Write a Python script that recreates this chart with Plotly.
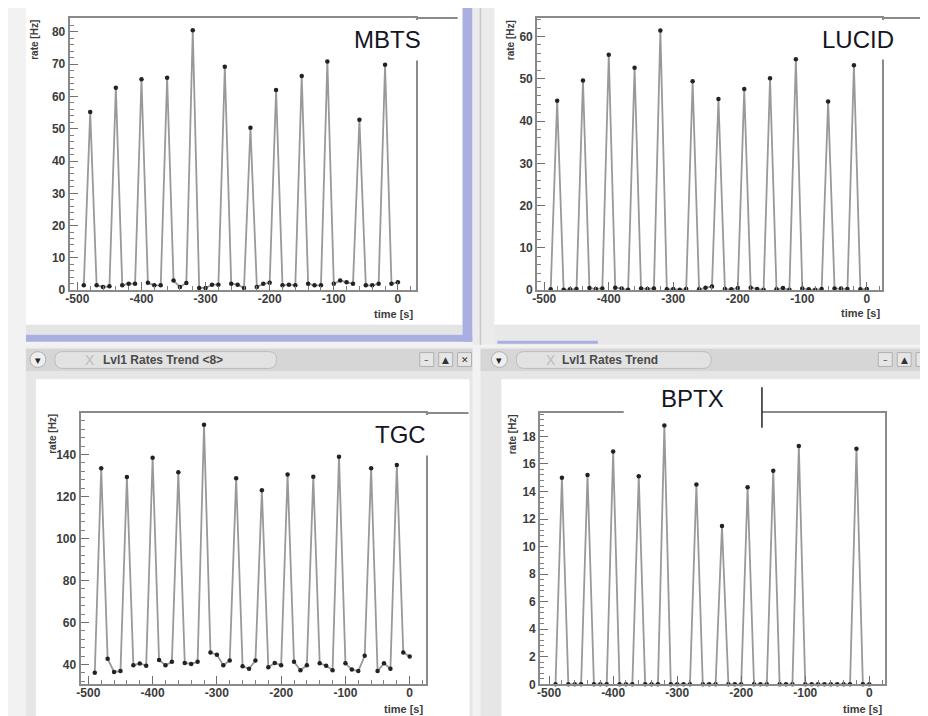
import plotly.graph_objects as go

# ---------------- data ----------------
times = [-490, -480, -470, -460, -450, -440, -430, -420, -410, -400,
         -390, -380, -370, -360, -350, -340, -330, -320, -310, -300,
         -290, -280, -270, -260, -250, -240, -230, -220, -210, -200,
         -190, -180, -170, -160, -150, -140, -130, -120, -110, -100,
         -90, -80, -70, -60, -50, -40, -30, -20, -10, 0]

mbts_rate = [1.5, 55.2, 1.5, 1.0, 1.2, 62.7, 1.5, 2.0, 2.0, 65.3,
             2.3, 1.5, 1.5, 65.8, 3.0, 1.0, 2.2, 80.5, 0.7, 0.7,
             1.7, 1.7, 69.2, 2.0, 1.7, 0.7, 50.3, 1.0, 2.0, 2.3,
             62.0, 1.5, 1.7, 1.5, 66.3, 2.0, 1.5, 1.5, 70.8, 2.0,
             3.0, 2.5, 2.0, 52.8, 1.5, 1.5, 2.0, 69.8, 2.0, 2.5]

lucid_rate = [0.2, 44.8, 0.1, 0.2, 0.3, 49.6, 0.5, 0.3, 0.4, 55.7,
              0.6, 0.4, 0.1, 52.6, 0.4, 0.3, 0.4, 61.4, 0.2, 0.3,
              0.1, 0.3, 49.4, 0.2, 0.6, 0.9, 45.2, 0.3, 0.2, 0.5,
              47.6, 0.6, 0.3, 0.1, 50.1, 0.2, 0.5, 0.1, 54.6, 0.4,
              0.2, 0.1, 0.3, 44.6, 0.4, 0.4, 0.3, 53.2, 0.2, 0.3]

tgc_rate = [36.1, 133.5, 42.8, 36.5, 36.9, 129.3, 39.7, 40.5, 39.5, 138.5,
            42.2, 39.7, 41.3, 131.6, 40.8, 40.3, 41.3, 154.2, 45.7, 44.7,
            39.7, 41.9, 128.7, 39.2, 38.0, 41.9, 123.0, 38.7, 40.8, 39.7,
            130.5, 41.3, 37.3, 39.7, 129.5, 40.6, 39.5, 37.3, 139.0, 40.6,
            37.6, 36.9, 44.2, 133.5, 36.9, 40.6, 38.0, 135.0, 45.7, 43.8]

bptx_rate = [0, 15.0, 0, 0, 0, 15.2, 0, 0, 0, 16.9,
             0, 0, 0, 15.1, 0, 0, 0, 18.8, 0, 0,
             0, 0, 14.5, 0, 0, 0, 11.5, 0, 0, 0,
             14.3, 0, 0, 0, 15.5, 0, 0, 0, 17.3, 0,
             0, 0, 0, 0, 0, 0, 0, 17.1, 0, 0]

panel_names = ["MBTS", "LUCID", "TGC", "BPTX"]
x_tick_vals = [-500, -400, -300, -200, -100, 0]
x_tick_text = ["-500", "-400", "-300", "-200", "-100", "0"]
y_title = "rate [Hz]"
x_title = "time [s]"
window_title_left = "Lvl1 Rates Trend <8>"
window_title_right = "Lvl1 Rates Trend"

# ---------------- layout helpers ----------------
W, H = 928, 716


def px(x):
    return x / W


def py(y):
    return 1 - y / H


shapes = []
annotations = []


def rect(x0, y0, x1, y1, fill, line=None, lw=0, layer="below"):
    shapes.append(dict(type="rect", xref="paper", yref="paper",
                       x0=px(x0), x1=px(x1), y0=py(y1), y1=py(y0),
                       fillcolor=fill, layer=layer,
                       line=dict(color=line or fill, width=lw)))


def hline(x0, x1, y, color, w=1.5, layer="above"):
    shapes.append(dict(type="line", xref="paper", yref="paper",
                       x0=px(x0), x1=px(x1), y0=py(y), y1=py(y),
                       layer=layer, line=dict(color=color, width=w)))


def vline(x, y0, y1, color, w=1.5, layer="above"):
    shapes.append(dict(type="line", xref="paper", yref="paper",
                       x0=px(x), x1=px(x), y0=py(y0), y1=py(y1),
                       layer=layer, line=dict(color=color, width=w)))


def text(x, y, s, size=11, color="#333", weight="normal", angle=0,
         xanchor="center", yanchor="middle", family="Liberation Sans"):
    annotations.append(dict(xref="paper", yref="paper", x=px(x), y=py(y),
                            text=s, showarrow=False, textangle=angle,
                            xanchor=xanchor, yanchor=yanchor,
                            font=dict(family=family, size=size, color=color,
                                      weight=weight)))


# ---------------- window chrome ----------------
# top-left window
rect(13, 0, 452, 320, "white")
rect(13, 320, 452, 330, "#e4e4e4")
rect(13, 330, 462, 337, "#a9afe0")
rect(452, 0, 462, 337, "#a9afe0")
# top-right window
rect(462, 0, 484, 340, "#ebebeb")
vline(470, 0, 340, "#c8c8c8", 1.5, layer="below")
rect(484, 0, 919, 320, "white")
rect(484, 320, 928, 340, "#e8e8e8")
rect(487, 336, 588, 339, "#a9afe0")
# title bars
for (bx0, bx1, tab0, tab1, title, tx) in [
        (13, 462, 42, 265, window_title_left, 151),
        (470, 928, 506, 702, window_title_right, 600)]:
    rect(bx0, 343, bx1, 367, "#d6d6d6")
    hline(bx0, bx1, 343.5, "#f0f0f0", 1, layer="below")
    shapes.append(dict(type="path", xref="paper", yref="paper", layer="below",
                       path=(f"M {px(tab0 + 8)},{py(347)} L {px(tab1 - 8)},{py(347)} "
                             f"Q {px(tab1)},{py(347)} {px(tab1)},{py(355)} "
                             f"Q {px(tab1)},{py(364)} {px(tab1 - 8)},{py(364)} "
                             f"L {px(tab0 + 8)},{py(364)} "
                             f"Q {px(tab0)},{py(364)} {px(tab0)},{py(355)} "
                             f"Q {px(tab0)},{py(347)} {px(tab0 + 8)},{py(347)} Z"),
                       fillcolor="#e2e2e2", line=dict(color="#bdbdbd", width=1)))
    text(tx, 355, title, size=12, color="#4a4a4a", weight="bold")
    text(tab0 + 35, 355, "X", size=14, color="#bcbcbd")
    # circle menu button
    cx = 25 if bx0 == 13 else 489
    shapes.append(dict(type="circle", xref="paper", yref="paper", layer="below",
                       x0=px(cx - 8), x1=px(cx + 8), y0=py(363), y1=py(347),
                       fillcolor="#eeeeee", line=dict(color="#b0b0b0", width=1)))
    text(cx, 355, "▾", size=11, color="#222")
    # right buttons
    for i, g in enumerate(["–", "▲", "✕"]):
        bxr = (416 if bx0 == 13 else 877) + i * 19
        rect(bxr - 7, 348, bxr + 7, 362, "#e6e6e6", "#b0b0b0", 1)
        text(bxr, 355, g, size=9, color="#333", family="DejaVu Sans")
# lower window bodies
rect(13, 367, 462, 716, "#e6e6e6")
rect(23, 375, 459, 716, "white")
rect(470, 367, 928, 716, "#e6e6e6")
rect(491, 375, 919, 716, "white")

# ---------------- panels ----------------
panels = [
    dict(name=panel_names[0], y=mbts_rate, dom_x=(57, 405), dom_y=(10, 285),
         xr=[-512, 28], yr=[0, 84.3], ydt=10, ymin=2, y0tick=0),
    dict(name=panel_names[1], y=lucid_rate, dom_x=(527, 874), dom_y=(10, 285),
         xr=[-511, 24], yr=[0, 64.4], ydt=10, ymin=2, y0tick=0),
    dict(name=panel_names[2], y=tgc_rate, dom_x=(68, 415), dom_y=(409, 683),
         xr=[-512, 25], yr=[30.6, 159.8], ydt=20, ymin=4, y0tick=40),
    dict(name=panel_names[3], y=bptx_rate, dom_x=(530, 877), dom_y=(409, 683),
         xr=[-514, 25], yr=[0, 19.7], ydt=2, ymin=0.4, y0tick=0),
]

fig = go.Figure()
layout_axes = {}
tickfont = dict(family="Liberation Sans", size=12, color="#3c3c3c", weight="bold")
for i, p in enumerate(panels):
    n = "" if i == 0 else str(i + 1)
    fig.add_trace(go.Scatter(
        x=times, y=p["y"], mode="lines+markers", name=p["name"],
        xaxis="x" + n, yaxis="y" + n, showlegend=False,
        line=dict(color="#999999", width=1.8),
        marker=dict(color="#222222", size=4.5),
        cliponaxis=False))
    layout_axes["xaxis" + n] = dict(
        domain=[px(p["dom_x"][0]), px(p["dom_x"][1])], range=p["xr"],
        anchor="y" + n, showgrid=False, zeroline=False,
        showline=True, mirror=True, linecolor="#8a8a8a", linewidth=2,
        ticks="inside", ticklen=8, tickwidth=1, tickcolor="#707070",
        tickvals=x_tick_vals, ticktext=x_tick_text, tickfont=tickfont,
        ticklabelstandoff=-4,
        minor=dict(ticks="inside", ticklen=4, dtick=20, tick0=0,
                   tickcolor="#808080", showgrid=False))
    layout_axes["yaxis" + n] = dict(
        domain=[py(p["dom_y"][1]), py(p["dom_y"][0])], range=p["yr"],
        anchor="x" + n, showgrid=False, zeroline=False,
        showline=True, mirror=True, linecolor="#8a8a8a", linewidth=2,
        ticks="inside", ticklen=8, tickwidth=1, tickcolor="#707070",
        dtick=p["ydt"], tick0=p["y0tick"], tickfont=tickfont,
        minor=dict(ticks="inside", ticklen=4, dtick=p["ymin"], tick0=0,
                   tickcolor="#808080", showgrid=False))

# axis titles
for (yx, yy, tx, ty) in [(22, 10, 404, 309), (501, 10, 874, 308),
                         (39, 408, 414, 708), (502, 408, 876, 708)]:
    text(yx, yy, y_title, size=10, color="#3c3c3c", weight="bold", angle=-90,
         xanchor="center", yanchor="top")
    text(tx, ty, x_title, size=11, color="#3c3c3c", weight="bold",
         xanchor="right")

# label boxes covering the frame corners
rect(330, 12, 446, 53, "white", layer="above")
hline(405, 447, 10, "#8a8a8a", 2)
text(377, 32, panel_names[0], size=24, color="#151525")

rect(800, 12, 920, 52, "white", layer="above")
hline(874, 921, 10, "#8a8a8a", 2)
text(850, 32, panel_names[1], size=24, color="#151525")

rect(350, 411, 457, 452, "white", layer="above")
hline(415, 458, 409, "#8a8a8a", 2)
text(390, 431, panel_names[2], size=24, color="#151525")

rect(614, 383, 753, 416, "white", layer="above")
vline(753, 383, 424, "#222222", 1.5)
text(683, 394, panel_names[3], size=24, color="#151525")

fig.update_layout(
    width=W, height=H, margin=dict(l=0, r=0, t=0, b=0),
    paper_bgcolor="#f2f2f2", plot_bgcolor="rgba(0,0,0,0)",
    shapes=shapes, annotations=annotations, **layout_axes)

fig.write_html("out.html")
